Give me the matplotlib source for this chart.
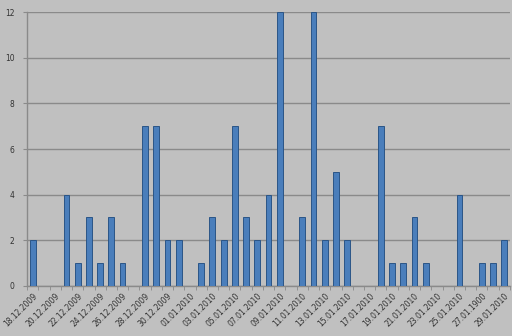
import matplotlib
matplotlib.use("Agg")
import matplotlib.pyplot as plt
import numpy as np

dates = ["18.12.2009","19.12.2009","20.12.2009","21.12.2009","22.12.2009","23.12.2009",
         "24.12.2009","25.12.2009","26.12.2009","27.12.2009","28.12.2009","29.12.2009",
         "30.12.2009","31.12.2009","01.01.2010","02.01.2010","03.01.2010","04.01.2010",
         "05.01.2010","06.01.2010","07.01.2010","08.01.2010","09.01.2010","10.01.2010",
         "11.01.2010","12.01.2010","13.01.2010","14.01.2010","15.01.2010","16.01.2010",
         "17.01.2010","18.01.2010","19.01.2010","20.01.2010","21.01.2010","22.01.2010",
         "23.01.2010","24.01.2010","25.01.2010","26.01.2010","27.01.1900","28.01.2010",
         "29.01.2010"]
values = [2,0,0,4,1,3,1,3,1,0,7,7,2,2,0,1,3,2,7,3,2,4,12,0,3,12,2,5,2,0,
          0,7,1,1,3,1,0,0,4,0,1,1,2]
yticks = [0, 2, 4, 6, 8, 10, 12]

bg = "#c0c0c0"
fig = plt.figure(figsize=(5.12, 3.36), dpi=100, facecolor=bg)
ax = fig.add_axes([0.053, 0.149, 0.943, 0.815])
ax.set_facecolor(bg)

x = np.arange(len(dates))
ax.bar(x, values, width=0.52, color="#4a7ebb", edgecolor="#2b5587", linewidth=0.7, zorder=3)

ax.set_xlim(-0.5, len(dates) - 0.5)
ax.set_ylim(0, 12)
ax.set_yticks(yticks)
ax.set_yticklabels([str(v) for v in yticks], fontsize=5.5, color="#333333")
ax.yaxis.grid(True, color="#8a8a8a", linewidth=1.0, zorder=0)

ax.set_xticks(x[::2])
ax.set_xticklabels(dates[::2], rotation=45, ha="right", rotation_mode="anchor",
                   fontsize=5.5, color="#333333")
ax.tick_params(axis="x", which="major", length=0, pad=4)
ax.set_xticks(np.arange(-0.5, len(dates), 1), minor=True)
ax.tick_params(axis="x", which="minor", length=3, color="#8a8a8a")
ax.tick_params(axis="y", length=3, color="#8a8a8a", pad=6)

for s in ["top", "right"]:
    ax.spines[s].set_visible(False)
for s in ["left", "bottom"]:
    ax.spines[s].set_color("#8a8a8a")
    ax.spines[s].set_linewidth(1.0)

fig.savefig("out.png", dpi=100, facecolor=bg)
